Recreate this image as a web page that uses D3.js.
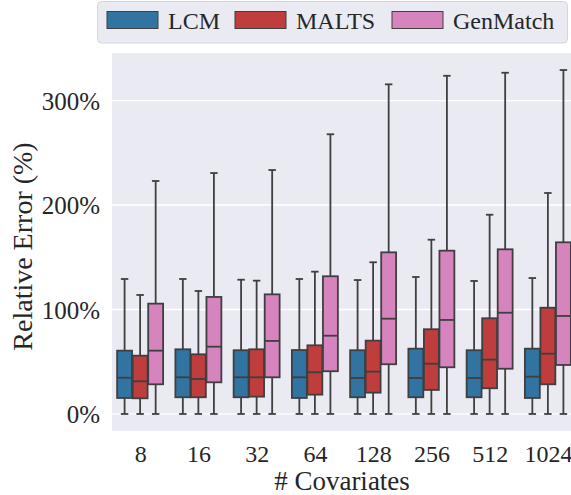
<!DOCTYPE html>
<html>
<head>
<meta charset="utf-8">
<script src="https://cdn.jsdelivr.net/npm/d3@7"></script>
<style>
  html, body { margin: 0; padding: 0; background: #ffffff; }
  svg { display: block; }
</style>
</head>
<body>
<svg id="chart" width="571" height="495"></svg>
<script>
// ---- data (percent values) ----
const categories = ["8", "16", "32", "64", "128", "256", "512", "1024"];
const methods = ["LCM", "MALTS", "GenMatch"];
const colors = ["#3274a1", "#c03d3e", "#d684bd"];
const yTicks = [0, 100, 200, 300];

// each entry: [whiskerLow, Q1, median, Q3, whiskerHigh]
const lcmStats = [
  [0, 15.3, 34.7, 60.6, 129.2],
  [0, 16.0, 35.1, 61.9, 129.2],
  [0, 16.0, 35.1, 61.0, 128.5],
  [0, 15.3, 35.1, 61.2, 129.2],
  [0, 16.0, 34.4, 61.0, 128.2],
  [0, 16.0, 34.4, 62.5, 131.1],
  [0, 16.0, 34.4, 61.0, 127.3],
  [0, 15.3, 35.7, 62.5, 130.1]
];
const maltsStats = [
  [0, 15.0, 31.3, 55.8, 113.9],
  [0, 16.0, 33.5, 57.1, 117.7],
  [0, 16.6, 35.1, 61.9, 127.6],
  [0, 18.5, 39.9, 65.7, 136.2],
  [0, 20.4, 40.5, 70.2, 145.2],
  [0, 23.0, 48.1, 81.1, 166.8],
  [0, 24.6, 52.0, 91.6, 190.7],
  [0, 28.4, 57.7, 101.7, 211.5]
];
const genmatchStats = [
  [0, 28.4, 60.6, 105.6, 223.0],
  [0, 30.3, 64.4, 112.0, 230.6],
  [0, 35.1, 69.9, 114.5, 233.5],
  [0, 40.9, 74.9, 131.8, 267.7],
  [0, 47.6, 91.2, 154.7, 315.5],
  [0, 44.7, 90.0, 156.3, 323.7],
  [0, 43.3, 96.9, 157.6, 326.6],
  [0, 46.9, 93.8, 164.3, 329.2]
];
const seriesStats = [lcmStats, maltsStats, genmatchStats];

// ---- layout ----
const svg = d3.select("#chart");
const plot = { left: 112, right: 577, top: 53, bottom: 431 };
const font = "'Liberation Serif', 'Times New Roman', serif";
const edge = "#3f3f3f";

const x = d3.scaleLinear()
  .domain([-0.5, categories.length - 0.5])
  .range([plot.left - 1, plot.right]);
const y = d3.scaleLinear()
  .domain([-16.3, 345.5])
  .range([plot.bottom, plot.top]);

const bandW = x(1) - x(0);
const groupW = bandW * 0.8;
const boxW = groupW / methods.length;
const innerW = boxW * 0.96;
const capW = innerW / 2;

// background
svg.append("rect")
  .attr("x", plot.left).attr("y", plot.top)
  .attr("width", plot.right - plot.left).attr("height", plot.bottom - plot.top)
  .attr("fill", "#eaeaf2");

// gridlines
svg.append("g").selectAll("line").data(yTicks).join("line")
  .attr("x1", plot.left).attr("x2", plot.right)
  .attr("y1", d => y(d)).attr("y2", d => y(d))
  .attr("stroke", "#ffffff").attr("stroke-width", 1.3);

// y axis labels
const yAxis = d3.axisLeft(y).tickValues(yTicks).tickFormat(d => d + "%").tickSize(0).tickPadding(12);
const gy = svg.append("g").attr("transform", `translate(${plot.left},0)`).call(yAxis);
gy.select(".domain").remove();
gy.selectAll("text")
  .attr("font-family", font).attr("font-size", 25).attr("fill", "#262626")
  .attr("dy", "0.35em");

// x axis labels
const xAxis = d3.axisBottom(x).tickValues(d3.range(categories.length))
  .tickFormat(i => categories[i]).tickSize(0).tickPadding(14);
const gx = svg.append("g").attr("transform", `translate(0,${plot.bottom})`).call(xAxis);
gx.select(".domain").remove();
gx.selectAll("text")
  .attr("font-family", font).attr("font-size", 24).attr("fill", "#262626");

// boxes
seriesStats.forEach((stats, m) => {
  const g = svg.append("g");
  stats.forEach((s, i) => {
    const cx = x(i) - groupW / 2 + boxW * (m + 0.5);
    const [lo, q1, med, q3, hi] = s;
    g.append("line").attr("x1", cx).attr("x2", cx).attr("y1", y(q3)).attr("y2", y(hi))
      .attr("stroke", edge).attr("stroke-width", 1.8);
    g.append("line").attr("x1", cx).attr("x2", cx).attr("y1", y(q1)).attr("y2", y(lo))
      .attr("stroke", edge).attr("stroke-width", 1.8);
    [lo, hi].forEach(v => {
      g.append("line").attr("x1", cx - capW / 2).attr("x2", cx + capW / 2)
        .attr("y1", y(v)).attr("y2", y(v))
        .attr("stroke", edge).attr("stroke-width", 1.8);
    });
    g.append("rect")
      .attr("x", cx - innerW / 2).attr("width", innerW)
      .attr("y", y(q3)).attr("height", y(q1) - y(q3))
      .attr("fill", colors[m]).attr("stroke", edge).attr("stroke-width", 1.8);
    g.append("line").attr("x1", cx - innerW / 2).attr("x2", cx + innerW / 2)
      .attr("y1", y(med)).attr("y2", y(med))
      .attr("stroke", edge).attr("stroke-width", 1.8);
  });
});

// axis titles
svg.append("text")
  .attr("x", 342).attr("y", 490)
  .attr("text-anchor", "middle")
  .attr("font-family", font).attr("font-size", 27).attr("fill", "#262626")
  .text("# Covariates");

svg.append("text")
  .attr("transform", `translate(32,${(133 + 360) / 2}) rotate(-90)`)
  .attr("text-anchor", "middle")
  .attr("font-family", font).attr("font-size", 28).attr("fill", "#262626")
  .text("Relative Error (%)");

// legend
const legend = svg.append("g");
legend.append("rect")
  .attr("x", 97.5).attr("y", 1.5).attr("width", 470).attr("height", 41.5)
  .attr("rx", 4).attr("ry", 4)
  .attr("fill", "#eaeaf2").attr("stroke", "#d5d5dd").attr("stroke-width", 1);
const patchX = [107, 235, 392];
const textX = [168, 296, 453];
methods.forEach((name, m) => {
  legend.append("rect")
    .attr("x", patchX[m]).attr("y", 11.5).attr("width", 51).attr("height", 17)
    .attr("fill", colors[m]).attr("stroke", edge).attr("stroke-width", 1);
  legend.append("text")
    .attr("x", textX[m]).attr("y", 28.5)
    .attr("font-family", font).attr("font-size", 24).attr("fill", "#262626")
    .text(name);
});
</script>
</body>
</html>
